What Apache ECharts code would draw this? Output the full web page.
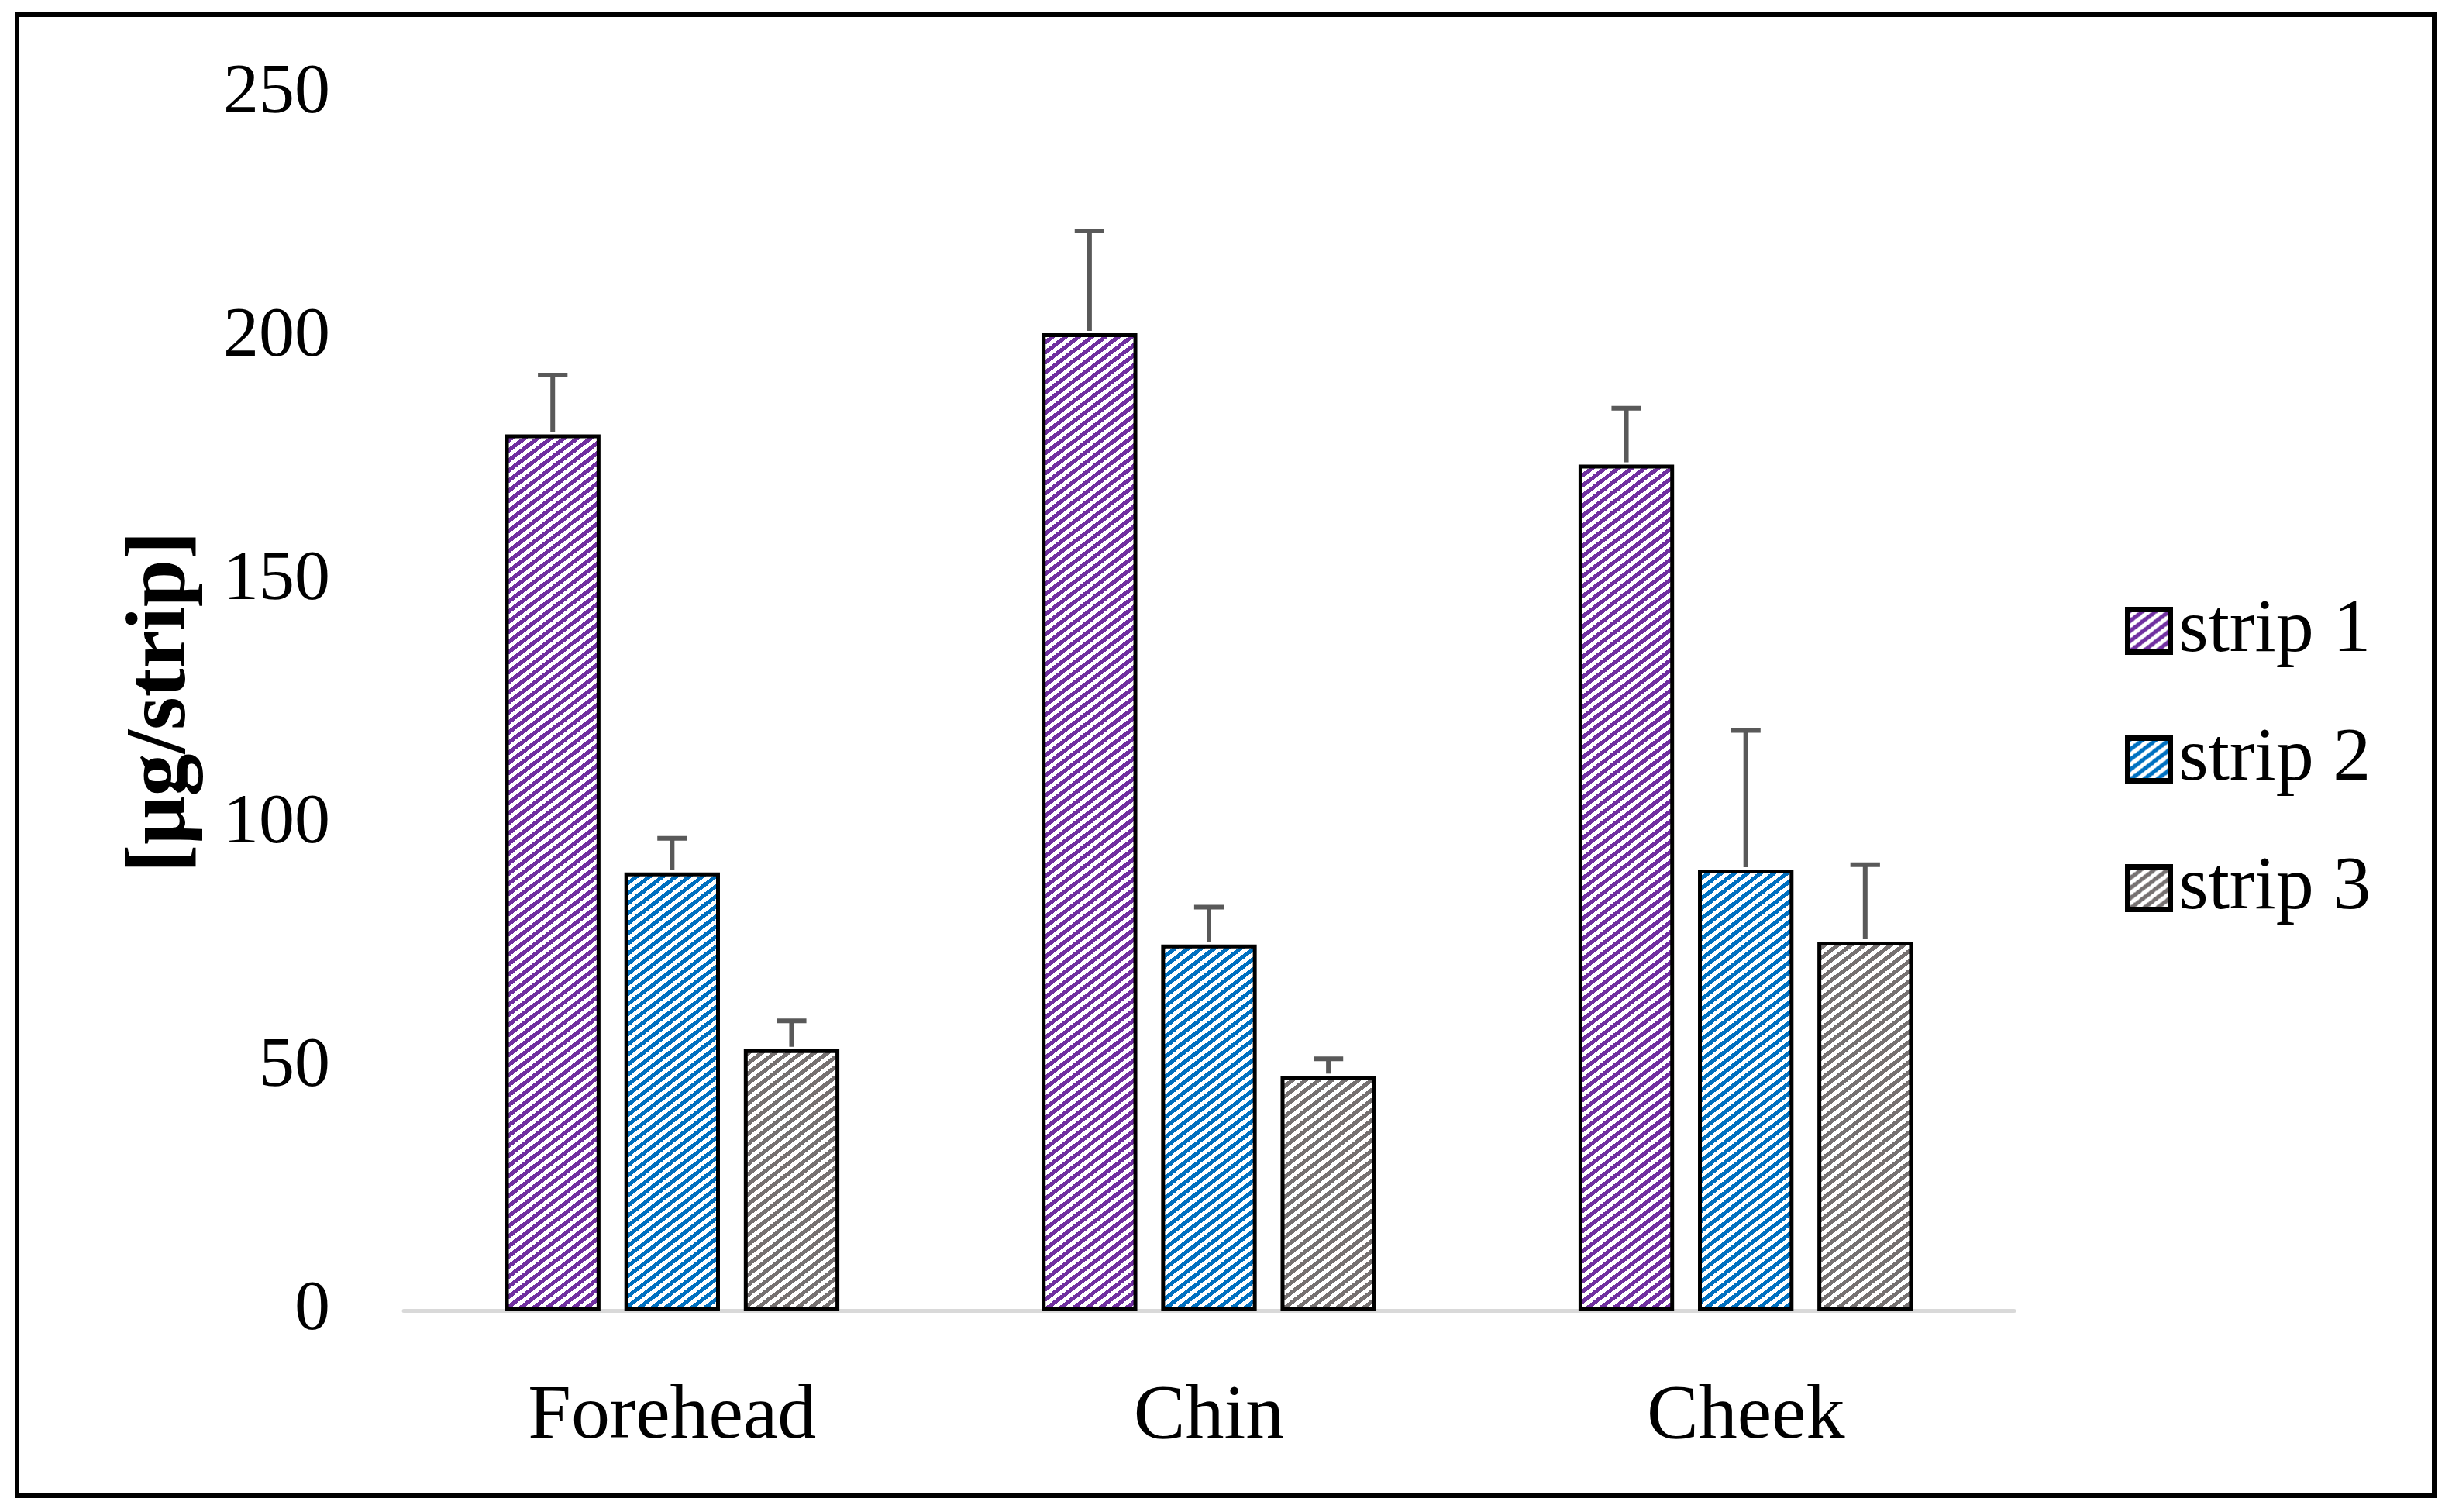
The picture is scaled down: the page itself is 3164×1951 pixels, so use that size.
<!DOCTYPE html>
<html><head><meta charset="utf-8">
<script src="https://cdn.jsdelivr.net/npm/echarts@6/dist/echarts.min.js"></script>
<style>html,body{margin:0;padding:0;background:#fff}#c{width:3164px;height:1951px}</style>
</head><body><div id="c"></div>
<script>
const categories = ['Forehead', 'Chin', 'Cheek'];
const seriesNames = ['strip 1', 'strip 2', 'strip 3'];
const strip1 = [180, 200.8, 173.8];
const strip2 = [90, 75.2, 90.6];
const strip3 = [53.7, 48.2, 75.8];
const err1 = [12.2, 21, 11.6];
const err2 = [7, 7.7, 28.6];
const err3 = [5.8, 3.5, 15.8];
const yTicks = [0, 50, 100, 150, 200, 250];

const COLORS = ['#7030A0', '#0070C0', '#767171'];
const BAR_RATIO = 0.178, GAP_RATIO = 0.25;
const FONT = '"Liberation Serif", "Times New Roman", serif';

function stripes(color) {
  const H = 17, V = 13, c = document.createElement('canvas');
  c.width = H; c.height = V;
  const ctx = c.getContext('2d');
  ctx.fillStyle = '#fff'; ctx.fillRect(0, 0, H, V);
  ctx.fillStyle = color;
  for (let y = 0; y < V; y++) for (let x = 0; x < H; x++) {
    const f = x / H + y / V;
    if (f - Math.floor(f) < 0.5) ctx.fillRect(x, y, 1, 1);
  }
  return c;
}

const values = [strip1, strip2, strip3];
const errs = [err1, err2, err3];
const patterns = COLORS.map(c => ({ image: stripes(c), repeat: 'repeat' }));

const barSeries = values.map((vals, idx) => ({
  type: 'bar', name: seriesNames[idx], data: vals,
  barWidth: (BAR_RATIO * 100) + '%', barGap: (GAP_RATIO * 100) + '%',
  itemStyle: { color: patterns[idx], borderColor: '#000', borderWidth: 5 },
  emphasis: { disabled: true }, animation: false
}));

const errSeries = values.map((vals, idx) => ({
  type: 'custom', name: 'err' + idx, z: 10, silent: true, animation: false,
  data: vals.map((v, i) => [i, v, v + errs[idx][i]]),
  renderItem(params, api) {
    const band = api.size([1, 0])[0];
    const w = band * BAR_RATIO, gap = w * GAP_RATIO;
    const off = (idx - 1) * (w + gap);
    const base = api.coord([api.value(0), api.value(1)]);
    const top = api.coord([api.value(0), api.value(2)]);
    const x = base[0] + off, cap = w * 0.31;
    const st = { stroke: '#595959', lineWidth: 6 };
    return { type: 'group', children: [
      { type: 'line', shape: { x1: x, y1: base[1] - 3, x2: x, y2: top[1] }, style: st },
      { type: 'line', shape: { x1: x - cap / 2, y1: top[1], x2: x + cap / 2, y2: top[1] }, style: st }
    ] };
  }
}));

const chart = echarts.init(document.getElementById('c'), null, { renderer: 'canvas' });
chart.setOption({
  backgroundColor: '#fff',
  animation: false,
  textStyle: { fontFamily: FONT },
  graphic: [{ type: 'rect', shape: { x: 22, y: 19, width: 3119, height: 1911 },
    style: { fill: null, stroke: '#000', lineWidth: 6 }, z: 100 }],
  grid: { left: 521, right: 565, top: 121, bottom: 260 },
  legend: {
    orient: 'vertical', left: 2737, top: 759,
    data: seriesNames.map((n, i) => ({ name: n, itemStyle: { color: patterns[i] } })),
    icon: 'rect', itemWidth: 55, itemHeight: 55, itemGap: 66,
    itemStyle: { borderWidth: 7, borderColor: '#000' },
    textStyle: { fontFamily: FONT, fontSize: 98, color: '#000', lineHeight: 100, padding: [0, 0, 0, 6] },
    selectedMode: false
  },
  xAxis: {
    type: 'category', data: categories,
    axisLine: { lineStyle: { color: '#D9D9D9', width: 5 } },
    axisTick: { show: false },
    axisLabel: { fontFamily: FONT, fontSize: 100, color: '#000', margin: 88 }
  },
  yAxis: {
    type: 'value', min: yTicks[0], max: yTicks[yTicks.length - 1], interval: yTicks[1] - yTicks[0],
    axisLine: { show: false }, axisTick: { show: false }, splitLine: { show: false },
    axisLabel: { fontFamily: FONT, fontSize: 92, color: '#000', margin: 95 },
    name: '[μg/strip]', nameLocation: 'middle', nameGap: 256,
    nameTextStyle: { fontFamily: FONT, fontSize: 110, fontWeight: 'bold', color: '#000' }
  },
  series: [...barSeries, ...errSeries]
});
</script></body></html>
